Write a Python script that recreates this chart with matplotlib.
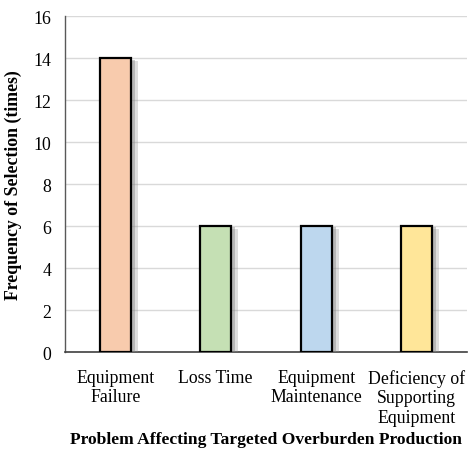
import matplotlib
matplotlib.use("Agg")
import matplotlib.pyplot as plt
import matplotlib.patheffects as pe

categories = ["Equipment\nFailure", "Loss Time", "Equipment\nMaintenance",
              "Deficiency of\nSupporting\nEquipment"]
values = [14, 6, 6, 6]
colors = ["#F8CBAD", "#C5E0B4", "#BDD7EE", "#FFE699"]
yticks = [0, 2, 4, 6, 8, 10, 12, 14, 16]

plt.rcParams['font.family'] = ['Liberation Serif', 'DejaVu Serif']

fig = plt.figure(figsize=(4.69, 4.52), dpi=100)
ax = fig.add_axes([0.1386, 0.219, 0.857, 0.743])

x = list(range(len(categories)))
bars = ax.bar(x, values, width=0.31, color=colors, edgecolor="black",
              linewidth=1.6, zorder=3)
for b in bars:
    b.set_path_effects([
        pe.SimplePatchShadow(offset=(5, -2), shadow_rgbFace="#909090", alpha=0.3),
        pe.SimplePatchShadow(offset=(3, -1), shadow_rgbFace="#808080", alpha=0.4),
        pe.Normal()])

ax.set_xlim(-0.5, len(categories) - 0.5)
ax.set_ylim(0, 16)
ax.set_yticks(yticks)
ax.set_xticks(x)
ax.set_xticklabels(categories, fontsize=12.8, linespacing=1.2)
ax.tick_params(axis='y', labelsize=12.8, length=0, pad=10)
ax.tick_params(axis='x', length=0, pad=12)
ax.grid(axis='y', color="#D9D9D9", linewidth=1, zorder=0)
ax.set_axisbelow(True)
for s in ["top", "right"]:
    ax.spines[s].set_visible(False)
ax.spines["left"].set_color("#595959")
ax.spines["bottom"].set_color("#404040")
ax.spines["left"].set_linewidth(1)
ax.spines["bottom"].set_linewidth(1.2)

ax.set_ylabel("Frequency of Selection (times)", fontsize=12.8, fontweight="bold", labelpad=8)
ax.set_xlabel("Problem Affecting Targeted Overburden Production", fontsize=12.6,
              fontweight="bold", labelpad=4)

fig.savefig("out.png", dpi=100)
